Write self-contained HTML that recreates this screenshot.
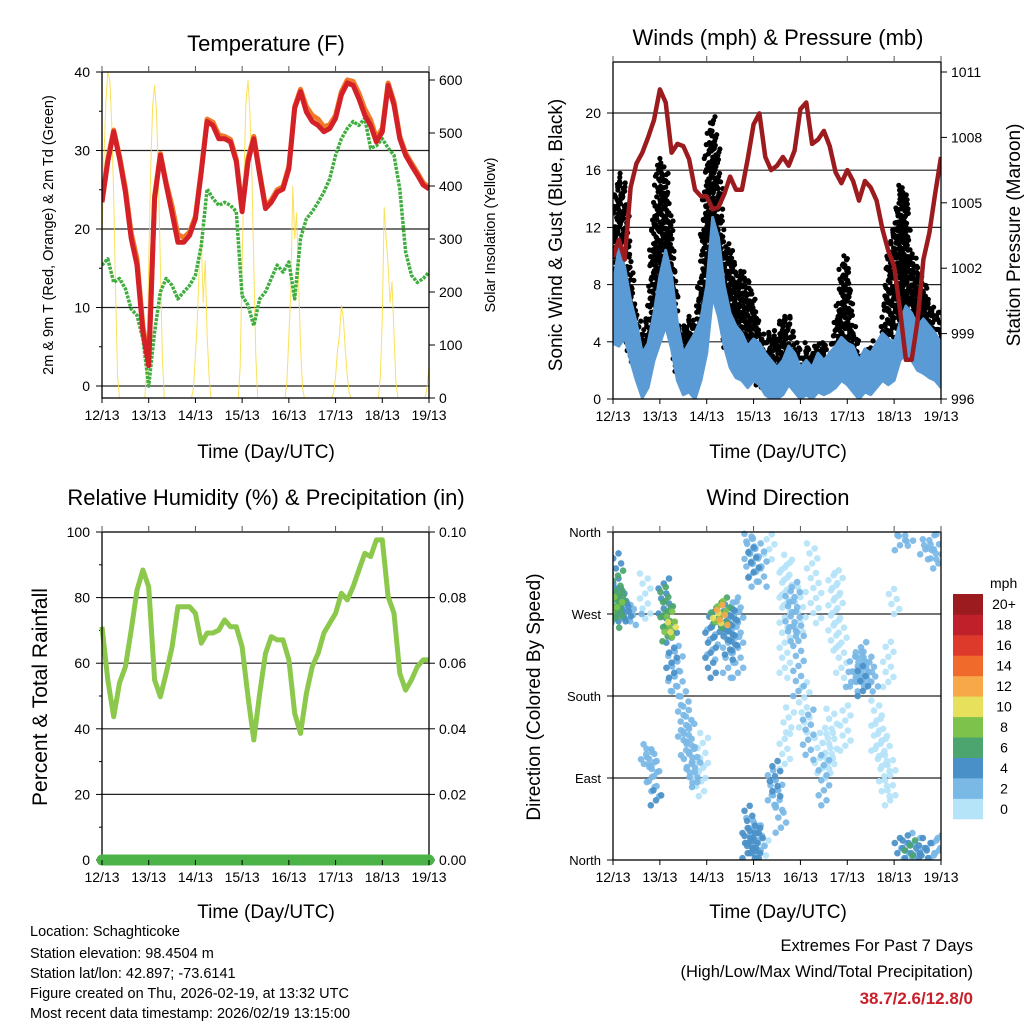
<!DOCTYPE html>
<html><head><meta charset="utf-8">
<style>
html,body{margin:0;padding:0;background:#fff;}
svg{display:block;font-family:"Liberation Sans",Arial,sans-serif;}
</style></head>
<body>
<svg id="c" width="1024" height="1024" viewBox="0 0 1024 1024" xmlns="http://www.w3.org/2000/svg">
<rect x="0" y="0" width="1024" height="1024" fill="#fff"/>
<text x="266" y="51" font-size="22" text-anchor="middle">Temperature (F)</text>
<text x="778" y="45" font-size="22" text-anchor="middle">Winds (mph) &amp; Pressure (mb)</text>
<text x="266" y="505" font-size="22" text-anchor="middle">Relative Humidity (%) &amp; Precipitation (in)</text>
<text x="778" y="505" font-size="22" text-anchor="middle">Wind Direction</text>
<text x="266" y="458" font-size="19" text-anchor="middle">Time (Day/UTC)</text>
<text x="778" y="458" font-size="19" text-anchor="middle">Time (Day/UTC)</text>
<text x="266" y="918" font-size="19" text-anchor="middle">Time (Day/UTC)</text>
<text x="778" y="918" font-size="19" text-anchor="middle">Time (Day/UTC)</text>
<text transform="translate(53,235) rotate(-90)" font-size="14.5" text-anchor="middle">2m &amp; 9m T (Red, Orange) &amp; 2m Td (Green)</text>
<text transform="translate(495,235) rotate(-90)" font-size="14.5" text-anchor="middle">Solar Insolation (Yellow)</text>
<text transform="translate(562,235) rotate(-90)" font-size="19" text-anchor="middle">Sonic Wind &amp; Gust (Blue, Black)</text>
<text transform="translate(1020,235) rotate(-90)" font-size="19" text-anchor="middle">Station Pressure (Maroon)</text>
<text transform="translate(47,697) rotate(-90)" font-size="21" text-anchor="middle">Percent &amp; Total Rainfall</text>
<text transform="translate(540,697) rotate(-90)" font-size="19" text-anchor="middle">Direction (Colored By Speed)</text>
<g font-size="14.5">
<text x="30" y="936">Location: Schaghticoke</text>
<text x="30" y="958">Station elevation: 98.4504 m</text>
<text x="30" y="978">Station lat/lon: 42.897; -73.6141</text>
<text x="30" y="998">Figure created on Thu, 2026-02-19, at 13:32 UTC</text>
<text x="30" y="1018">Most recent data timestamp: 2026/02/19 13:15:00</text>
</g>
<text x="973" y="951" font-size="16.5" text-anchor="end">Extremes For Past 7 Days</text>
<text x="973" y="977" font-size="16.5" text-anchor="end">(High/Low/Max Wind/Total Precipitation)</text>
<text x="973" y="1004" font-size="17" font-weight="bold" fill="#c8202a" text-anchor="end">38.7/2.6/12.8/0</text>
<g id="layer"></g>
</svg>
<script>
// ---------- data ----------
const dayLabels = ["12/13","13/13","14/13","15/13","16/13","17/13","18/13","19/13"];
const temp2m = [23.4,28.6,32.4,29,24.7,18.8,15.4,6.9,2.6,23.9,29.4,25.6,22,18.3,18.3,19.2,21.3,27.3,33.7,33.2,31.5,31.5,31.1,28.6,22.2,28.6,31.5,26.9,22.6,23.4,24.7,25.1,27.7,35.4,37.5,34.9,33.7,33.2,32.4,32.8,34.1,37.1,38.6,38.3,36.6,34.5,33.2,31.1,32.4,38.3,35.8,31.5,29.4,28.1,26.9,25.6,25.1];
const temp9m = [23.6,28.9,32.6,29.3,25.2,19.5,16.2,7.6,3.1,24.2,29.6,25.9,22.9,19.3,18.9,19.6,21.6,27.5,34.0,33.6,32.0,31.8,31.4,28.9,22.6,29.0,31.8,27.2,22.9,23.7,25.0,25.4,28.0,35.6,37.8,35.6,34.5,34.0,33.0,33.3,34.5,37.5,39.0,38.8,37.3,35.3,33.9,31.6,32.8,38.6,36.2,31.8,29.7,28.4,27.2,25.9,25.3];
const dewpt2m = [15.4,16.2,13.2,13.7,12.4,9.8,9,6,0,6.9,12,13.7,12.8,11.1,12,12.8,14.1,17.9,25.1,23.9,23,23.4,23,22.2,11.5,10.3,7.7,11.1,12,13.7,15.4,14.5,15.8,11.1,18.8,21.3,22.2,23.4,24.7,26.4,29.4,31.5,32.8,33.7,33.2,34.1,30.3,30.6,31.5,30.3,29.4,25.1,17.1,14.1,13.2,13.7,14.5];
const solar = [300,450,560,615,600,520,380,200,40,0,0,0,0,0,0,0,0,0,0,0,0,0,
0,60,250,430,550,590,540,420,250,80,0,0,0,0,0,0,0,0,0,0,0,0,0,0,
0,20,80,150,250,300,180,260,120,40,0,0,0,0,0,0,0,0,0,0,0,0,0,0,
0,60,250,430,560,600,540,420,250,80,0,0,0,0,0,0,0,0,0,0,0,0,0,0,
0,30,120,200,400,300,350,220,100,20,0,0,0,0,0,0,0,0,0,0,0,0,0,0,
0,10,40,90,120,175,150,90,40,10,0,0,0,0,0,0,0,0,0,0,0,0,0,0,
0,40,150,360,300,250,180,220,120,30,0,0,0,0,0,0,0,0,0,0,0,0,0,0,
0,20,60];
const pressure = [1002.5,1003.3,1002.4,1005.7,1006.8,1007.3,1008.0,1008.8,1010.2,1009.6,1007.3,1007.7,1007.6,1007.0,1005.6,1005.3,1005.3,1004.7,1004.8,1005.4,1006.2,1005.6,1005.6,1007.0,1008.6,1009.1,1007.1,1006.5,1006.7,1007.1,1006.7,1007.4,1009.3,1009.6,1007.7,1007.9,1008.3,1007.6,1006.4,1005.9,1006.5,1006.0,1005.1,1006.0,1005.7,1005.1,1003.8,1002.8,1002.1,1000.1,997.8,997.8,999.6,1002.4,1003.6,1005.4,1007.1];
const windHi = [7.9,10.6,9.2,6.9,5.3,3.2,3.9,6,8.6,10.4,8.6,5.3,3.2,3.9,4.6,5.6,7.9,12.7,11.3,7.9,6,5.1,4.6,3.7,4.2,3.9,3.2,2.7,2.2,2.7,3.7,3.2,2.2,2.7,2.2,3.2,2.7,3.2,3.7,4.3,3.9,3.7,2.7,3.5,3.2,3.9,4.6,4.2,3.9,5.3,6.5,6.0,5.1,5.6,5.1,4.6,3.9];
const windLo = [3.9,3.7,4.3,2.7,1.3,0.1,0.8,2.7,3.9,5.1,3.5,1.3,0.3,0.5,0,1.3,3.2,7.2,5.8,3.7,2.2,1.5,1.3,0.8,1.3,1.0,0.3,0,0,0.3,1.0,0.5,0,0.3,0,0.5,0.3,0.5,0.8,1.3,1.0,0.5,0,0.5,0.3,0.8,1.3,1.0,1.3,2.7,3.2,2.7,2.0,1.8,1.5,1.3,0.8];
const gustLo = [4,6,5,3,2,1,2,5,8,9,5,2,1,2,2,4,8,12,9,4,3,4,3,2,2,1,1,1,1,2,2,1,1,1,1,2,1,1,2,3,4,2,1,1,1,1,2,4,5,6,5,4,3,2,3,3,3];
const gustHi = [12,16,15,9,6,4,6,13,17,16,12,5,5,6,5,9,17,20,17,10,11,9,9,8,7,5,4,5,4,6,6,4,3,4,3,4,4,3,5,9,10,5,3,3,4,3,5,10,12,15,14,10,9,8,7,6,6];
const rh = [71.1,54.9,43.7,54,58.9,70.1,82.3,88.4,83.3,54.9,49.8,57,65,77.2,77.2,77.2,75.2,66.1,69.2,69.2,70.1,73.2,71.1,71.1,65,49.8,36.6,50.8,63,68.1,67.1,67.1,61,44.7,38.6,50.8,58.9,63,69.2,72.2,75.2,81.3,79.3,83.3,88.4,93.5,92.5,97.6,97.6,80.3,75.2,56.9,51.8,54.9,58.9,61,61];
const precip = [0,0,0,0,0,0,0,0,0,0,0,0,0,0,0,0,0,0,0,0,0,0,0,0,0,0,0,0,0,0,0,0,0,0,0,0,0,0,0,0,0,0,0,0,0,0,0,0,0,0,0,0,0,0,0,0,0];
const dirHour = [0.5,1.5,2.5,3.5,4.5,5.5,6.5,7.5,9,12,16.5,1,2,3,
17,18.5,20,21,22,
26,27,28,29,29.5,30,31,33,
36,37.5,39,40.5,42,44,46,
50,51,52,53,54,55,56,57,58,59,60,61,62,64,
69,70,71,72,73,74,75,77,
70,71,72,73,76,80,
82,83,84,86,88,90,
88,89,91,93,95,96,98,100,102,104,
106,108,110,112,113,115,117,119,
122,124,126,127,128,130,131,133,
135,137,139,141,142,144,
147,149,151,152,154,156,158,160,162,165,167,
147,149,151,160,162,164,167];
const dirLo = [255,265,268,268,265,262,262,262,258,270,265,270,272,275,
105,100,80,70,60,
265,250,240,245,250,200,180,185,
130,115,100,80,85,70,90,
200,220,245,255,260,262,258,255,240,200,220,230,245,200,
2,10,2,2,5,2,10,5,
325,300,310,320,300,330,
60,70,55,30,100,140,
200,280,240,250,180,250,140,110,320,260,
90,60,90,100,230,260,200,120,
190,185,190,195,180,195,190,185,
120,100,70,190,60,270,
2,2,5,5,2,2,5,2,2,2,5,
340,350,345,330,340,320,330];
const dirHi = [290,340,320,300,300,290,280,275,280,280,315,275,290,295,
130,125,120,110,80,
310,300,285,275,262,270,240,230,
185,170,150,130,115,110,140,
260,270,275,285,275,285,280,290,275,270,285,275,285,290,
40,60,50,30,45,35,40,30,
360,355,345,358,340,360,
100,110,90,60,140,170,
330,340,300,310,260,300,200,170,350,320,
150,120,140,170,320,320,260,170,
210,225,230,240,215,225,230,210,
180,160,140,240,120,300,
25,20,30,25,20,30,20,25,20,25,30,
360,360,360,355,360,345,360];
const dirSpeed = [6,4,7,6,5,4,4,3,3,2,1,10,8,7,
2,2,2,2,4,
4,7,6,8,10,4,3,2,
2,2,3,2,3,1,1,
4,3,5,7,10,8,12,7,4,3,4,4,3,3,
4,4,3,4,3,4,2,1,
3,3,4,3,2,1,
3,4,3,2,1,1,
1,1,2,3,3,1,1,2,1,1,
1,2,1,1,1,1,1,1,
3,3,3,2,4,3,2,2,
1,1,1,1,1,1,
4,3,4,6,4,3,4,4,3,3,3,
3,3,2,2,2,3,2];
const speedLabels = ["0","2","4","6","8","10","12","14","16","18","20+"];
const speedColors = ["#b5e3f8","#7ab9e6","#4a90c8","#4ca56e","#7dc24a","#e6e05c","#f7a94a","#f06a2c","#de3a2c","#c0202a","#9b1b1e"];
const hours3 = Array.from({length:57},(_,i)=>i*3);
const hours1 = Array.from({length:169},(_,i)=>i);

// ---------- helpers ----------
const NS="http://www.w3.org/2000/svg";
const layer=document.getElementById('layer');
function mk(tag,attrs,parent){const e=document.createElementNS(NS,tag);for(const k in attrs)e.setAttribute(k,attrs[k]);(parent||layer).appendChild(e);return e;}
function lin(d0,d1,r0,r1){return v=>r0+(v-d0)*(r1-r0)/(d1-d0);}
function pathD(xs,ys,hs,vals){return vals.map((v,i)=>(i?'L':'M')+xs(hs[i]).toFixed(1)+','+ys(v).toFixed(1)).join('');}

function frame(name,x0,y0,x1,y1,xs){
  const g=mk('g',{});
  
  
  dayLabels.forEach((lab,i)=>{
    const x=xs(i*24);
    const t1=mk('line',{x1:x,y1:y1,x2:x,y2:y1+5,stroke:'#000','stroke-width':1},g);
    
    
    const t2=mk('line',{x1:x,y1:y0,x2:x,y2:y0-6,stroke:'#555','stroke-width':1},g);
    
    
    const t=mk('text',{x:x,y:y1+22,'font-size':14,'text-anchor':'middle'},g);
    t.textContent=lab;
    
    
  });
  return g;
}
function border(name,x0,y0,x1,y1){
  const r=mk('rect',{x:x0,y:y0,width:x1-x0,height:y1-y0,fill:'none',stroke:'#000','stroke-width':1.3});
  
  
}
function yTicks(name,vals,labels,ys,x0,x1,side,grid,fs){
  vals.forEach((v,i)=>{
    const y=ys(v);
    if(grid&&grid(v)){
      const gl=mk('line',{x1:x0,y1:y,x2:x1,y2:y,stroke:'#222','stroke-width':1.2});
      
      
    }
    const xa=side==='left'?x0:x1, dx=side==='left'?-6:6;
    const tk=mk('line',{x1:xa,y1:y,x2:xa+dx,y2:y,stroke:'#000','stroke-width':1});
    
    
    const t=mk('text',{x:side==='left'?x0-12:x1+10,y:y+5,'font-size':fs||14,'text-anchor':side==='left'?'end':'start'});
    t.textContent=labels[i];
    
    
  });
}

// ---------- Temperature panel ----------
(function(){
  const x0=102,x1=429,y0=72,y1=398;
  const xs=lin(0,168,x0,x1), ys=lin(0,40,386,72), ss=lin(0,600,398,80);
  yTicks('temp',[0,10,20,30,40],["0","10","20","30","40"],ys,x0,x1,'left',v=>v>=0&&v<40);
  yTicks('solar',[0,100,200,300,400,500,600],["0","100","200","300","400","500","600"],ss,x0,x1,'right',null);
  [5,15,25,35].forEach(v=>{const m=mk('line',{x1:x0,y1:ys(v),x2:x0-3,y2:ys(v),stroke:'#000'});});
  const cp=mk('clipPath',{id:'cpT'});mk('rect',{x:x0,y:y0,width:x1-x0,height:y1-y0},cp);
  const g=mk('g',{'clip-path':'url(#cpT)'});
  
  
  const sl=mk('path',{d:pathD(xs,ss,hours1,solar),fill:'none',stroke:'#f9dc3c','stroke-width':1,opacity:0.85},g);
  
  
  const dl=mk('path',{d:pathD(xs,ys,hours3,dewpt2m),fill:'none',stroke:'#3fae3f','stroke-width':3.5,'stroke-dasharray':'3 1.2','stroke-linejoin':'round'},g);
  
  
  const ol=mk('path',{d:pathD(xs,ys,hours3,temp9m),fill:'none',stroke:'#f07a2a','stroke-width':5,'stroke-linejoin':'round'},g);
  
  
  const rl=mk('path',{d:pathD(xs,ys,hours3,temp2m),fill:'none',stroke:'#d42027','stroke-width':5,'stroke-linejoin':'round'},g);
  
  
  border('temp',x0,y0,x1,y1);
  frame('temp',x0,y0,x1,y1,xs);
})();

// ---------- Winds panel ----------
(function(){
  const x0=613,x1=941,y0=62,y1=399;
  const xs=lin(0,168,x0,x1), ys=lin(0,20,399,113), ps=lin(996,1011,399,72);
  yTicks('wind',[0,4,8,12,16,20],["0","4","8","12","16","20"],ys,x0,x1,'left',v=>v>0);
  yTicks('pressure',[996,999,1002,1005,1008,1011],["996","999","1002","1005","1008","1011"],ps,x0,x1,'right',null);
  const cp=mk('clipPath',{id:'cpW'});mk('rect',{x:x0,y:y0,width:x1-x0,height:y1-y0},cp);
  const g=mk('g',{'clip-path':'url(#cpW)'});
  
  
  let n=0;
  for(let h=0;h<=168;h+=0.5){
    const i=Math.min(Math.floor(h/3),55), f=(h-i*3)/3;
    const lo=gustLo[i]+(gustLo[i+1]-gustLo[i])*f, hi=gustHi[i]+(gustHi[i+1]-gustHi[i])*f;
    for(let v=lo; v<=hi; v+=0.6){
      n++;
      const off=((n*7)%5-2)*1.2, voff=((n*3)%4-1.5)*0.12;
      const c=mk('circle',{cx:(xs(h)+off).toFixed(1),cy:ys(v+voff).toFixed(1),r:2.6,fill:'#000'},g);
      
      
    }
  }
  let d='M'+hours3.map((h,i)=>xs(h).toFixed(1)+','+ys(windHi[i]).toFixed(1)).join('L');
  d+='L'+hours3.slice().reverse().map((h,k)=>{const i=hours3.length-1-k;return xs(h).toFixed(1)+','+ys(windLo[i]).toFixed(1);}).join('L')+'Z';
  const wb=mk('path',{d:d,fill:'#5b9bd5',stroke:'#5b9bd5','stroke-width':3,'stroke-linejoin':'round'},g);
  
  
  const pl=mk('path',{d:pathD(xs,ps,hours3,pressure),fill:'none',stroke:'#9c1b1f','stroke-width':4.5,'stroke-linejoin':'round'},g);
  
  
  border('winds',x0,y0,x1,y1);
  frame('winds',x0,y0,x1,y1,xs);
})();

// ---------- Humidity panel ----------
(function(){
  const x0=102,x1=429,y0=532,y1=860;
  const xs=lin(0,168,x0,x1), ys=lin(0,100,860,532), ps=lin(0,0.1,860,532);
  yTicks('rh',[0,20,40,60,80,100],["0","20","40","60","80","100"],ys,x0,x1,'left',v=>v>0&&v<100);
  yTicks('precip',[0,0.02,0.04,0.06,0.08,0.10],["0.00","0.02","0.04","0.06","0.08","0.10"],ps,x0,x1,'right',null);
  [10,30,50,70,90].forEach(v=>{const m=mk('line',{x1:x0,y1:ys(v),x2:x0-3,y2:ys(v),stroke:'#000'});});
  const rl=mk('path',{d:pathD(xs,ys,hours3,rh),fill:'none',stroke:'#8cc84b','stroke-width':5,'stroke-linejoin':'round'});
  
  
  border('rh',x0,y0,x1,y1);
  const pr=mk('path',{d:pathD(xs,ps,hours3,precip),fill:'none',stroke:'#4cb348','stroke-width':11,'stroke-linecap':'round'});
  
  
  frame('rh',x0,y0,x1,y1,xs);
})();

// ---------- Wind direction panel ----------
(function(){
  const x0=613,x1=941,y0=532,y1=860;
  const xs=lin(0,168,x0,x1), ys=lin(0,360,860,532);
  yTicks('dir',[0,90,180,270,360],["North","East","South","West","North"],ys,x0,x1,'left',v=>v>0&&v<360,13);
  const cp=mk('clipPath',{id:'cpD'});mk('rect',{x:x0,y:y0-4,width:x1-x0,height:y1-y0+4},cp);
  const g=mk('g',{'clip-path':'url(#cpD)'});
  
  
  const order=dirHour.map((_,i)=>i).sort((a,b)=>dirSpeed[a]-dirSpeed[b]);
  let n=0;
  order.forEach(i=>{
    const col=speedColors[Math.min(10,Math.floor(dirSpeed[i]/2))];
    for(let v=dirLo[i]; v<=dirHi[i]; v+=5.5){
      n++;
      const off=((n*7)%5-2)*2.6;
      const c=mk('circle',{cx:(xs(dirHour[i])+off).toFixed(1),cy:ys(v).toFixed(1),r:3.3,fill:col,opacity:0.92},g);
      
      
    }
  });
  border('dir',x0,y0,x1,y1);
  frame('dir',x0,y0,x1,y1,xs);
  const cb=mk('g',{});
  
  
  const ut=mk('text',{x:990,y:588,'font-size':14},cb);
  ut.textContent='mph';
  
  
  const bh=225/11;
  speedLabels.forEach((lab,k)=>{
    const y=819-(k+1)*bh;
    const r=mk('rect',{x:953,y:y.toFixed(1),width:30,height:(bh+0.3).toFixed(1),fill:speedColors[k]},cb);
    
    
    const t=mk('text',{x:1004,y:(y+bh/2+5).toFixed(1),'font-size':14,'text-anchor':'middle'},cb);
    t.textContent=lab;
    
    
  });
})();
</script>
</body></html>
